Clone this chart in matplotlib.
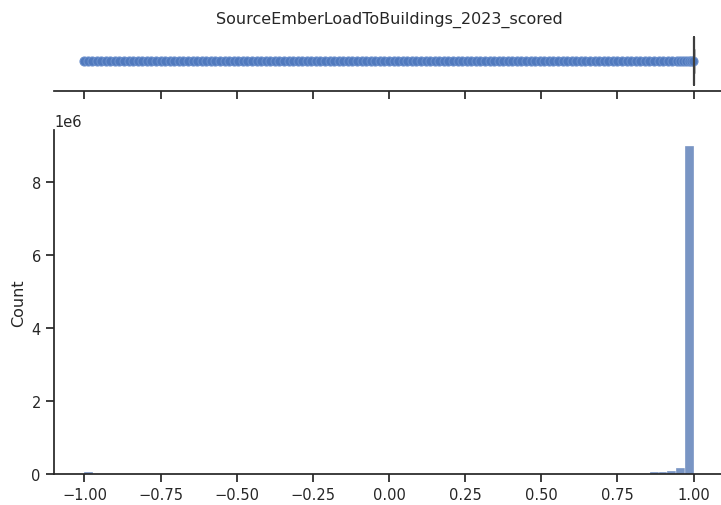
import numpy as np
import matplotlib
matplotlib.use("Agg")
import matplotlib.pyplot as plt
import seaborn as sns

sns.set_theme(style="ticks")

title = "SourceEmberLoadToBuildings_2023_scored"

# histogram: left edge of each non-empty bin and its count (70 bins on [-1, 1])
bin_width = 2 / 70
bin_left = [-1.0, 0.8571, 0.8857, 0.9143, 0.9429, 0.9714]
bin_count = [0.065e6, 0.045e6, 0.045e6, 0.09e6, 0.16e6, 8.98e6]

# box plot summary: the box collapses onto 1.0, everything else is a flier
box_med = 1.0
box_q1 = 1.0
box_q3 = 1.0
fliers = [-1.0, -0.99, -0.975, -0.96, -0.945, -0.93, -0.915, -0.9, -0.885, -0.87,
          -0.855, -0.84, -0.825, -0.81, -0.795, -0.78, -0.765, -0.75, -0.735, -0.72,
          -0.705, -0.69, -0.675, -0.66, -0.645, -0.63, -0.615, -0.6, -0.585, -0.57,
          -0.555, -0.54, -0.525, -0.51, -0.495, -0.48, -0.465, -0.45, -0.435, -0.42,
          -0.405, -0.39, -0.375, -0.36, -0.345, -0.33, -0.315, -0.3, -0.285, -0.27,
          -0.255, -0.24, -0.225, -0.21, -0.195, -0.18, -0.165, -0.15, -0.135, -0.12,
          -0.105, -0.09, -0.075, -0.06, -0.045, -0.03, -0.015, 0.0, 0.015, 0.03,
          0.045, 0.06, 0.075, 0.09, 0.105, 0.12, 0.135, 0.15, 0.165, 0.18,
          0.195, 0.21, 0.225, 0.24, 0.255, 0.27, 0.285, 0.3, 0.315, 0.33,
          0.345, 0.36, 0.375, 0.39, 0.405, 0.42, 0.435, 0.45, 0.465, 0.48,
          0.495, 0.51, 0.525, 0.54, 0.555, 0.57, 0.585, 0.6, 0.615, 0.63,
          0.645, 0.66, 0.675, 0.69, 0.705, 0.72, 0.735, 0.75, 0.765, 0.78,
          0.795, 0.81, 0.825, 0.84, 0.855, 0.87, 0.885, 0.9, 0.915, 0.93,
          0.945, 0.955, 0.965, 0.975, 0.985, 0.993, 0.998]

blue = "#4C72B0"
dark = "#3d3d3d"

fig = plt.figure(figsize=(7.21, 5.06), dpi=100)
W, H = 721, 506
ax_box = fig.add_axes([54 / W, 1 - 92 / H, 670 / W, 60 / H])
ax_hist = fig.add_axes([54 / W, 1 - 475 / H, 670 / W, 344 / H])

# top: horizontal box plot
stats = [{"med": box_med, "q1": box_q1, "q3": box_q3,
          "whislo": box_q1, "whishi": box_q3, "fliers": fliers}]
ax_box.bxp(stats, positions=[0], widths=0.8, orientation="horizontal",
           boxprops=dict(color=dark, linewidth=1.2),
           medianprops=dict(color=dark, linewidth=1.6, zorder=5),
           whiskerprops=dict(color=dark), capprops=dict(color=dark),
           flierprops=dict(marker="o", markersize=6.5, markerfacecolor="#5079bd",
                           markeredgecolor="#6a8fcc", markeredgewidth=0.8))
ax_box.set_ylim(-0.5, 0.5)
ax_box.set_xlim(-1.1, 1.1)
ax_box.set_yticks([])
ax_box.set_xticks([-1.0, -0.75, -0.5, -0.25, 0.0, 0.25, 0.5, 0.75, 1.0])
ax_box.tick_params(labelbottom=False)
for s in ["left", "top", "right"]:
    ax_box.spines[s].set_visible(False)
ax_box.set_title(title, fontsize=11.5, pad=6)

# bottom: histogram
centers = [b + bin_width / 2 for b in bin_left]
edges = np.linspace(-1, 1, 71)
ax_hist.hist(centers, bins=edges, weights=bin_count, color=blue, alpha=0.75,
             edgecolor="white", linewidth=0.3)
ax_hist.set_xlim(-1.1, 1.1)
ax_hist.set_xticks([-1.0, -0.75, -0.5, -0.25, 0.0, 0.25, 0.5, 0.75, 1.0])
ax_hist.tick_params(labelsize=10.5)
ax_hist.yaxis.get_offset_text().set_fontsize(10.5)
ax_hist.set_ylabel("Count", fontsize=11.5)
sns.despine(ax=ax_hist)

fig.savefig("out.png", dpi=100)
